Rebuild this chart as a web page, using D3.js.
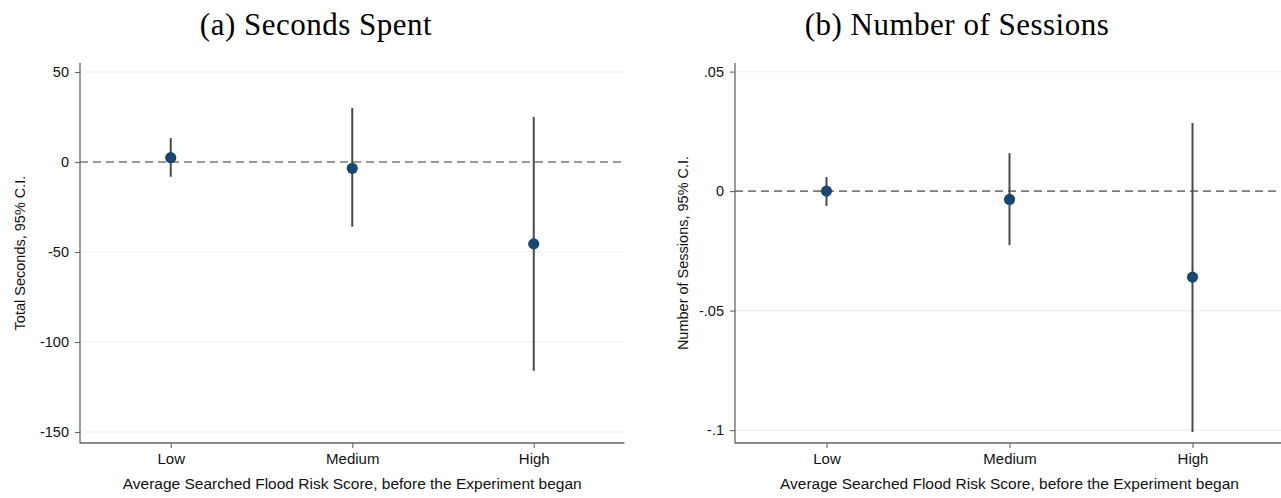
<!DOCTYPE html>
<html>
<head>
<meta charset="utf-8">
<script src="https://cdn.jsdelivr.net/npm/d3@7"></script>
<style>
  html, body { margin: 0; padding: 0; background: #fff; }
  svg { display: block; }
  .tick-label, .axis-title { font-family: "Liberation Sans", Arial, sans-serif; fill: #111; }
  .panel-title { font-family: "Liberation Serif", "Times New Roman", serif; fill: #000; }
</style>
</head>
<body>
<svg id="chart" width="1281" height="498"></svg>
<script>
// Risk-score groups on the x axis
const categories = ["Low", "Medium", "High"];

// Panel (a): total seconds spent, point estimate and 95% CI bounds
const secondsEst = [2.4, -3.5, -45.5];
const secondsLo = [-8.2, -36, -116];
const secondsHi = [13.3, 30, 25];
const secondsTicks = [50, 0, -50, -100, -150];
const secondsTickLabels = ["50", "0", "-50", "-100", "-150"];

// Panel (b): number of sessions, point estimate and 95% CI bounds
const sessionsEst = [0.0, -0.0035, -0.036];
const sessionsLo = [-0.0062, -0.0226, -0.1008];
const sessionsHi = [0.0059, 0.0159, 0.0285];
const sessionsTicks = [0.05, 0, -0.05, -0.1];
const sessionsTickLabels = [".05", "0", "-.05", "-.1"];

const xTitle = "Average Searched Flood Risk Score, before the Experiment began";

const svg = d3.select("#chart");

function drawPanel(opts) {
  const { left, top, bottom, yDomain, est, lo, hi, ticks, tickLabels,
          yTitle, yTitleOffset, title, figCenter, step } = opts;
  const right = left + step * 3;

  const x = d3.scalePoint().domain(categories).range([left, right]).padding(0.5);
  const y = d3.scaleLinear().domain(yDomain).range([bottom, top]);
  const g = svg.append("g");

  // light horizontal gridlines
  g.selectAll("line.grid").data(ticks.filter(t => t !== 0)).join("line")
    .attr("x1", left).attr("x2", right)
    .attr("y1", d => y(d)).attr("y2", d => y(d))
    .attr("stroke", "#eaf1f2").attr("stroke-width", 1.2);

  // zero reference line
  g.append("line")
    .attr("x1", left).attr("x2", right)
    .attr("y1", y(0)).attr("y2", y(0))
    .attr("stroke", "#7a7a7a").attr("stroke-width", 1.6)
    .attr("stroke-dasharray", "8,5");

  // y axis
  const yAxis = d3.axisLeft(y).tickValues(ticks)
    .tickFormat((d, i) => tickLabels[i]).tickSize(5).tickPadding(6);
  const ya = g.append("g").attr("transform", `translate(${left},0)`).call(yAxis);
  ya.attr("font-family", null).attr("font-size", null);
  ya.select(".domain").attr("d", `M0,${top}V${bottom + 0.5}`).attr("stroke", "#666").attr("stroke-width", 1.3);
  ya.selectAll(".tick line").attr("stroke", "#666").attr("stroke-width", 1.1);
  ya.selectAll(".tick text").attr("class", "tick-label").style("font-size", "14.5px").attr("fill", "#111");

  // x axis
  const xAxis = d3.axisBottom(x).tickSize(5).tickPadding(5);
  const xa = g.append("g").attr("transform", `translate(0,${bottom})`).call(xAxis);
  xa.attr("font-family", null).attr("font-size", null);
  xa.select(".domain").attr("d", `M${left},0H${right}`).attr("stroke", "#666").attr("stroke-width", 1.3);
  xa.selectAll(".tick line").attr("stroke", "#666").attr("stroke-width", 1.1);
  xa.selectAll(".tick text").attr("class", "tick-label").style("font-size", "15px").attr("fill", "#111");

  // confidence intervals
  g.selectAll("line.ci").data(categories).join("line")
    .attr("x1", d => x(d)).attr("x2", d => x(d))
    .attr("y1", (d, i) => y(hi[i])).attr("y2", (d, i) => y(lo[i]))
    .attr("stroke", "#4a4a4a").attr("stroke-width", 2);

  // point estimates
  g.selectAll("circle.est").data(categories).join("circle")
    .attr("cx", d => x(d)).attr("cy", (d, i) => y(est[i]))
    .attr("r", 5.6).attr("fill", "#1a476f");

  // axis titles
  g.append("text").attr("class", "axis-title")
    .attr("transform", `translate(${left - yTitleOffset},${(top + bottom) / 2}) rotate(-90)`)
    .attr("text-anchor", "middle").style("font-size", "14.5px").text(yTitle);
  g.append("text").attr("class", "axis-title")
    .attr("x", (left + right) / 2).attr("y", 489)
    .attr("text-anchor", "middle").style("font-size", "15.5px").text(xTitle);

  // panel title
  g.append("text").attr("class", "panel-title")
    .attr("x", figCenter).attr("y", 35)
    .attr("text-anchor", "middle").style("font-size", "31px")
    .style("letter-spacing", "0.5px").text(title);
}

drawPanel({
  left: 80, top: 63, bottom: 443, step: 181.5,
  yDomain: [-156.1, 55], est: secondsEst, lo: secondsLo, hi: secondsHi,
  ticks: secondsTicks, tickLabels: secondsTickLabels,
  yTitle: "Total Seconds, 95% C.I.", yTitleOffset: 55,
  title: "(a) Seconds Spent", figCenter: 316
});

drawPanel({
  left: 735, top: 63, bottom: 443, step: 183,
  yDomain: [-0.1054, 0.0536], est: sessionsEst, lo: sessionsLo, hi: sessionsHi,
  ticks: sessionsTicks, tickLabels: sessionsTickLabels,
  yTitle: "Number of Sessions, 95% C.I.", yTitleOffset: 47,
  title: "(b) Number of Sessions", figCenter: 957
});
</script>
</body>
</html>
